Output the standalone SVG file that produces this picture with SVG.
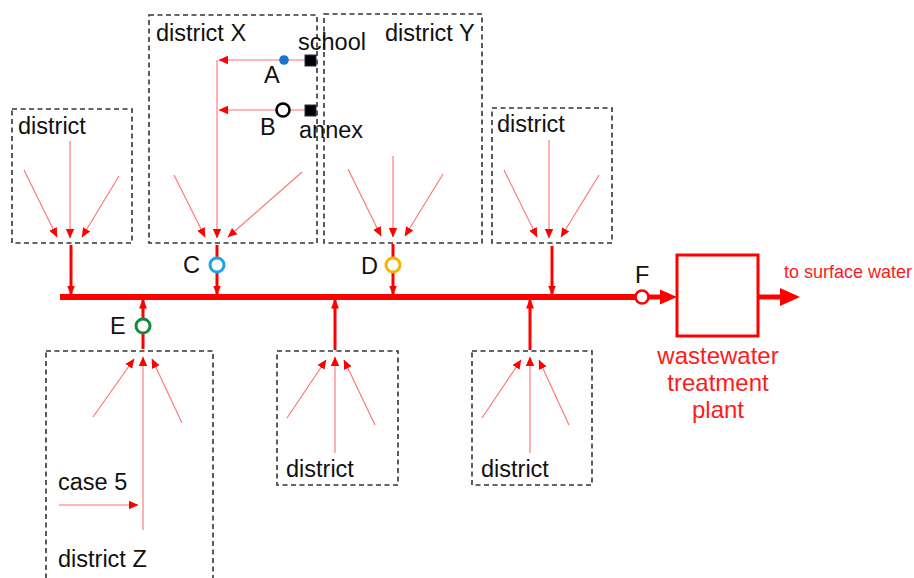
<svg xmlns="http://www.w3.org/2000/svg" width="914" height="578" viewBox="0 0 914 578">
<defs>
<style>
.box{fill:none;stroke:#333;stroke-width:1.6;stroke-dasharray:5 3.5}
.t{font-family:"Liberation Sans",Arial,sans-serif;font-size:23.5px;fill:#111}
.r{font-family:"Liberation Sans",Arial,sans-serif;fill:#ff1a1a}
.thin{stroke:#ff7070;stroke-width:1.1;fill:none;marker-end:url(#ah)}
.thick{stroke:#ff0000;stroke-width:3;fill:none}
.thickA{stroke:#ff0000;stroke-width:3;fill:none;marker-end:url(#ahb)}
</style>
<marker id="ah" markerUnits="userSpaceOnUse" markerWidth="10" markerHeight="10" viewBox="0 0 10 10" refX="9" refY="5" orient="auto">
<path d="M0,0.8 L9.5,5 L0,9.2 Z" fill="#ff0000"/>
</marker>
<marker id="ahb" markerUnits="userSpaceOnUse" markerWidth="10" markerHeight="10" viewBox="0 0 10 10" refX="9.5" refY="5" orient="auto">
<path d="M0,1 L10,5 L0,9 Z" fill="#ff0000"/>
</marker>
</defs>
<rect width="914" height="578" fill="#fff"/>

<g id="district-top-left">
<rect class="box" x="12" y="109" width="120" height="134"/>
<text class="t" x="18" y="134">district</text>
</g>
<g id="district-x">
<rect class="box" x="149" y="15" width="168" height="228"/>
<text class="t" x="156" y="41">district X</text>
</g>
<g id="district-y">
<rect class="box" x="324" y="14" width="158" height="229"/>
<text class="t" x="385" y="41">district Y</text>
</g>
<g id="district-top-right">
<rect class="box" x="492" y="108" width="120" height="135"/>
<text class="t" x="497" y="132">district</text>
</g>
<g id="district-z">
<rect class="box" x="46" y="351" width="167" height="240"/>
<text class="t" x="58" y="490">case 5</text>
<text class="t" x="58" y="567">district Z</text>
</g>
<g id="district-bottom-middle">
<rect class="box" x="277" y="351" width="121" height="134"/>
<text class="t" x="286" y="477">district</text>
</g>
<g id="district-bottom-right">
<rect class="box" x="472" y="351" width="120" height="134"/>
<text class="t" x="481" y="477">district</text>
</g>

<g id="connectors">
<!-- top-left district -->
<line class="thin" x1="24" y1="170" x2="57" y2="237"/>
<line class="thin" x1="70" y1="141" x2="70" y2="238"/>
<line class="thin" x1="119" y1="176" x2="82" y2="237"/>
<line class="thickA" x1="71" y1="245" x2="71" y2="295"/>
<!-- district X -->
<line class="thin" x1="174" y1="175" x2="205" y2="237"/>
<line class="thin" x1="217" y1="60" x2="217" y2="238"/>
<line class="thin" x1="302" y1="172" x2="228" y2="237"/>
<line class="thin" x1="305" y1="60" x2="219" y2="60"/>
<line class="thin" x1="305" y1="110" x2="219" y2="110"/>
<line class="thick" x1="217" y1="245" x2="217" y2="258"/>
<line class="thickA" x1="217" y1="272" x2="217" y2="295"/>
<!-- district Y -->
<line class="thin" x1="348" y1="169" x2="381" y2="236"/>
<line class="thin" x1="393" y1="156" x2="393" y2="237"/>
<line class="thin" x1="443" y1="174" x2="405" y2="236"/>
<line class="thick" x1="393" y1="244" x2="393" y2="258"/>
<line class="thickA" x1="393" y1="272" x2="393" y2="295"/>
<!-- top-right district -->
<line class="thin" x1="504" y1="170" x2="537" y2="237"/>
<line class="thin" x1="549" y1="140" x2="549" y2="238"/>
<line class="thin" x1="599" y1="175" x2="561" y2="237"/>
<line class="thickA" x1="552" y1="246" x2="552" y2="295"/>
<!-- district Z -->
<line class="thin" x1="93" y1="417" x2="134" y2="359"/>
<line class="thin" x1="143" y1="530" x2="143" y2="357"/>
<line class="thin" x1="182" y1="423" x2="152" y2="359"/>
<line class="thin" x1="59" y1="505" x2="138" y2="505"/>
<line class="thick" x1="143" y1="349" x2="143" y2="333"/>
<line class="thickA" x1="143" y1="319" x2="143" y2="299"/>
<!-- bottom middle -->
<line class="thin" x1="287" y1="418" x2="326" y2="360"/>
<line class="thin" x1="335" y1="453" x2="335" y2="357"/>
<line class="thin" x1="375" y1="425" x2="344" y2="360"/>
<line class="thickA" x1="335" y1="350" x2="335" y2="299"/>
<!-- bottom right -->
<line class="thin" x1="482" y1="418" x2="521" y2="360"/>
<line class="thin" x1="530" y1="453" x2="530" y2="357"/>
<line class="thin" x1="569" y1="425" x2="539" y2="360"/>
<line class="thickA" x1="530" y1="350" x2="530" y2="299"/>
<!-- main sewer -->
<line x1="60" y1="297" x2="636" y2="297" stroke="#ff0000" stroke-width="6"/>
<line x1="648" y1="297" x2="662" y2="297" stroke="#ff0000" stroke-width="5"/>
<path d="M660,289.5 L677,297 L660,304.5 Z" fill="#ff0000"/>
<line x1="758" y1="297" x2="782" y2="297" stroke="#ff0000" stroke-width="5"/>
<path d="M780,288 L800,297 L780,306 Z" fill="#ff0000"/>
</g>

<g id="school">
<rect x="305" y="55" width="11" height="11" fill="#000" stroke="#203050" stroke-width="1"/>
<text class="t" x="298" y="50">school</text>
</g>
<g id="annex">
<rect x="305" y="105" width="11" height="11" fill="#000" stroke="#203050" stroke-width="1"/>
<text class="t" x="299" y="138">annex</text>
</g>
<g id="point-a">
<circle cx="284" cy="60" r="4.8" fill="#1a73c8"/>
<text class="t" x="264" y="83">A</text>
</g>
<g id="point-b">
<circle cx="283" cy="110" r="6.5" fill="#fff" stroke="#000" stroke-width="2.6"/>
<text class="t" x="260" y="135">B</text>
</g>
<g id="point-c">
<circle cx="217" cy="265" r="7" fill="#fff" stroke="#1aa3e8" stroke-width="3"/>
<text class="t" x="183" y="273">C</text>
</g>
<g id="point-d">
<circle cx="393" cy="265" r="7" fill="#fff" stroke="#f5b400" stroke-width="3"/>
<text class="t" x="361" y="274">D</text>
</g>
<g id="point-e">
<circle cx="143" cy="326" r="7" fill="#fff" stroke="#138a3c" stroke-width="3"/>
<text class="t" x="110" y="334">E</text>
</g>
<g id="point-f">
<circle cx="642" cy="297" r="6.5" fill="#fff" stroke="#ff0000" stroke-width="2.6"/>
<text class="t" x="635" y="283">F</text>
</g>
<g id="wwtp">
<rect x="677" y="255" width="81" height="81" fill="#fff" stroke="#ff0000" stroke-width="3"/>
<text class="r" font-size="24" text-anchor="middle" x="718" y="364">wastewater</text>
<text class="r" font-size="24" text-anchor="middle" x="718" y="391">treatment</text>
<text class="r" font-size="24" text-anchor="middle" x="718" y="418">plant</text>
</g>
<g id="outlet">
<text class="r" font-size="18" x="784" y="278">to surface water</text>
</g>
</svg>
